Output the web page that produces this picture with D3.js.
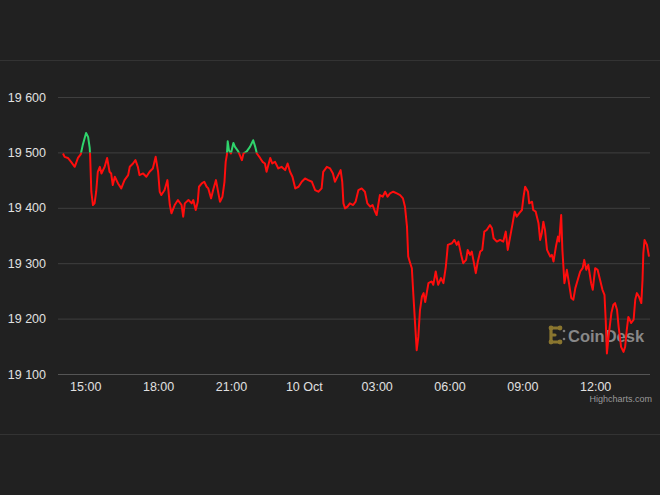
<!DOCTYPE html>
<html><head><meta charset="utf-8">
<script src="https://cdn.jsdelivr.net/npm/d3@7"></script>
<style>html,body{margin:0;padding:0;background:#212121;}svg{display:block;}</style>
</head><body>
<svg id="chart" width="660" height="495"></svg>
<script>
const times = [
"2022-10-09T14:05","2022-10-09T14:09","2022-10-09T14:17","2022-10-09T14:25","2022-10-09T14:34","2022-10-09T14:42","2022-10-09T14:49","2022-10-09T14:54",
"2022-10-09T15:02","2022-10-09T15:07","2022-10-09T15:11","2022-10-09T15:12","2022-10-09T15:15","2022-10-09T15:19","2022-10-09T15:23","2022-10-09T15:27",
"2022-10-09T15:31","2022-10-09T15:36","2022-10-09T15:40","2022-10-09T15:48","2022-10-09T15:54","2022-10-09T16:00","2022-10-09T16:04","2022-10-09T16:08",
"2022-10-09T16:13","2022-10-09T16:21","2022-10-09T16:29","2022-10-09T16:37","2022-10-09T16:46","2022-10-09T16:50","2022-10-09T16:58","2022-10-09T17:04",
"2022-10-09T17:10","2022-10-09T17:14","2022-10-09T17:23","2022-10-09T17:31","2022-10-09T17:39","2022-10-09T17:47","2022-10-09T17:54","2022-10-09T18:00",
"2022-10-09T18:04","2022-10-09T18:08","2022-10-09T18:16","2022-10-09T18:23","2022-10-09T18:29","2022-10-09T18:33","2022-10-09T18:41","2022-10-09T18:49",
"2022-10-09T18:58","2022-10-09T19:02","2022-10-09T19:06","2022-10-09T19:15","2022-10-09T19:23","2022-10-09T19:27","2022-10-09T19:33","2022-10-09T19:38",
"2022-10-09T19:41","2022-10-09T19:48","2022-10-09T19:54","2022-10-09T20:00","2022-10-09T20:04","2022-10-09T20:11","2022-10-09T20:16","2022-10-09T20:23",
"2022-10-09T20:29","2022-10-09T20:33","2022-10-09T20:39","2022-10-09T20:44","2022-10-09T20:47","2022-10-09T20:50","2022-10-09T20:52","2022-10-09T20:55",
"2022-10-09T21:00","2022-10-09T21:06","2022-10-09T21:10","2022-10-09T21:18","2022-10-09T21:27","2022-10-09T21:31","2022-10-09T21:39","2022-10-09T21:47",
"2022-10-09T21:55","2022-10-09T22:00","2022-10-09T22:04","2022-10-09T22:12","2022-10-09T22:18","2022-10-09T22:24","2022-10-09T22:28","2022-10-09T22:37",
"2022-10-09T22:42","2022-10-09T22:49","2022-10-09T22:57","2022-10-09T23:05","2022-10-09T23:14","2022-10-09T23:20","2022-10-09T23:26","2022-10-09T23:32",
"2022-10-09T23:39","2022-10-09T23:47","2022-10-09T23:55","2022-10-10T00:03","2022-10-10T00:11","2022-10-10T00:20","2022-10-10T00:28","2022-10-10T00:36",
"2022-10-10T00:44","2022-10-10T00:48","2022-10-10T00:57","2022-10-10T01:05","2022-10-10T01:12","2022-10-10T01:17","2022-10-10T01:25","2022-10-10T01:31",
"2022-10-10T01:35","2022-10-10T01:38","2022-10-10T01:42","2022-10-10T01:48","2022-10-10T01:54","2022-10-10T02:02","2022-10-10T02:08","2022-10-10T02:15",
"2022-10-10T02:23","2022-10-10T02:31","2022-10-10T02:37","2022-10-10T02:44","2022-10-10T02:50","2022-10-10T02:56","2022-10-10T03:00","2022-10-10T03:04",
"2022-10-10T03:08","2022-10-10T03:15","2022-10-10T03:21","2022-10-10T03:27","2022-10-10T03:33","2022-10-10T03:41","2022-10-10T03:50","2022-10-10T03:58",
"2022-10-10T04:05","2022-10-10T04:10","2022-10-10T04:15","2022-10-10T04:18","2022-10-10T04:23","2022-10-10T04:27","2022-10-10T04:31","2022-10-10T04:35",
"2022-10-10T04:39","2022-10-10T04:43","2022-10-10T04:47","2022-10-10T04:52","2022-10-10T04:56","2022-10-10T05:00","2022-10-10T05:08","2022-10-10T05:16",
"2022-10-10T05:20","2022-10-10T05:26","2022-10-10T05:32","2022-10-10T05:39","2022-10-10T05:45","2022-10-10T05:51","2022-10-10T05:56","2022-10-10T06:06",
"2022-10-10T06:12","2022-10-10T06:18","2022-10-10T06:22","2022-10-10T06:29","2022-10-10T06:34","2022-10-10T06:41","2022-10-10T06:45","2022-10-10T06:51",
"2022-10-10T06:55","2022-10-10T06:59","2022-10-10T07:05","2022-10-10T07:10","2022-10-10T07:16","2022-10-10T07:21","2022-10-10T07:26","2022-10-10T07:32",
"2022-10-10T07:40","2022-10-10T07:45","2022-10-10T07:49","2022-10-10T07:57","2022-10-10T08:05","2022-10-10T08:13","2022-10-10T08:19","2022-10-10T08:24",
"2022-10-10T08:30","2022-10-10T08:36","2022-10-10T08:41","2022-10-10T08:46","2022-10-10T08:52","2022-10-10T08:59","2022-10-10T09:03","2022-10-10T09:07",
"2022-10-10T09:14","2022-10-10T09:17","2022-10-10T09:24","2022-10-10T09:27","2022-10-10T09:33","2022-10-10T09:40","2022-10-10T09:44","2022-10-10T09:48",
"2022-10-10T09:52","2022-10-10T09:56","2022-10-10T10:01","2022-10-10T10:09","2022-10-10T10:13","2022-10-10T10:17","2022-10-10T10:23","2022-10-10T10:28",
"2022-10-10T10:31","2022-10-10T10:36","2022-10-10T10:39","2022-10-10T10:44","2022-10-10T10:50","2022-10-10T10:54","2022-10-10T11:01","2022-10-10T11:06",
"2022-10-10T11:11","2022-10-10T11:17","2022-10-10T11:23","2022-10-10T11:29","2022-10-10T11:33","2022-10-10T11:38","2022-10-10T11:43","2022-10-10T11:50",
"2022-10-10T11:54","2022-10-10T12:00","2022-10-10T12:06","2022-10-10T12:12","2022-10-10T12:18","2022-10-10T12:23","2022-10-10T12:26","2022-10-10T12:29",
"2022-10-10T12:33","2022-10-10T12:40","2022-10-10T12:45","2022-10-10T12:49","2022-10-10T12:54","2022-10-10T12:58","2022-10-10T13:04","2022-10-10T13:10",
"2022-10-10T13:14","2022-10-10T13:18","2022-10-10T13:22","2022-10-10T13:29","2022-10-10T13:35","2022-10-10T13:39","2022-10-10T13:43","2022-10-10T13:48",
"2022-10-10T13:54","2022-10-10T13:57","2022-10-10T13:59","2022-10-10T14:02","2022-10-10T14:08","2022-10-10T14:13"
];
const prices = [
19498,19492,19490,19483,19474,19490,19497,19514,
19535,19528,19508,19495,19429,19405,19408,19429,
19465,19474,19462,19474,19490,19465,19462,19441,
19456,19444,19435,19450,19459,19474,19480,19486,
19474,19459,19462,19456,19465,19471,19492,19465,
19429,19423,19432,19450,19405,19390,19405,19414,
19405,19384,19408,19414,19408,19414,19396,19411,
19438,19444,19447,19438,19435,19417,19432,19450,
19426,19411,19420,19447,19483,19496,19520,19504,
19498,19517,19510,19502,19486,19498,19502,19510,
19522,19510,19498,19490,19483,19480,19465,19490,
19480,19483,19471,19474,19468,19480,19465,19456,
19435,19438,19447,19453,19450,19447,19432,19429,
19435,19465,19474,19471,19462,19447,19459,19468,
19447,19408,19399,19402,19408,19405,19411,19432,
19435,19429,19408,19402,19405,19393,19387,19405,
19423,19420,19429,19420,19426,19429,19426,19423,
19417,19402,19366,19312,19300,19291,19240,19191,
19143,19167,19215,19240,19246,19230,19264,19267,
19261,19285,19261,19273,19264,19294,19333,19336,
19342,19333,19339,19315,19300,19306,19324,19315,
19321,19306,19282,19303,19321,19324,19357,19360,
19369,19363,19345,19339,19342,19339,19357,19324,
19348,19372,19393,19384,19390,19396,19420,19438,
19429,19408,19411,19396,19393,19372,19342,19354,
19375,19360,19324,19312,19315,19303,19330,19348,
19339,19387,19324,19264,19288,19270,19237,19234,
19255,19270,19285,19291,19306,19288,19297,19264,
19252,19291,19288,19270,19252,19243,19198,19137,
19167,19210,19225,19228,19216,19185,19149,19140,
19149,19179,19203,19192,19198,19234,19246,19240,
19228,19270,19318,19342,19333,19312
];
const yTicks = [19100, 19200, 19300, 19400, 19500, 19600];
const zoneThreshold = 19500;
const creditText = "Highcharts.com";
const brandText = "CoinDesk";

const svg = d3.select("#chart");
const W = 660, H = 495;
const plotLeft = 58, plotRight = 650, plotTop = 97, plotBottom = 374;

svg.append("rect").attr("width", W).attr("height", H).attr("fill", "#212121");
// frame lines
svg.append("line").attr("x1", 0).attr("x2", W).attr("y1", 60.5).attr("y2", 60.5).attr("stroke", "#333").attr("stroke-width", 1);
svg.append("line").attr("x1", 0).attr("x2", W).attr("y1", 434.5).attr("y2", 434.5).attr("stroke", "#333").attr("stroke-width", 1);

const parse = d3.timeParse("%Y-%m-%dT%H:%M");
const data = times.map((t, i) => ({ t: parse(t), v: prices[i] }));

const x = d3.scaleTime().domain(d3.extent(data, d => d.t)).range([63, 649]);
const y = d3.scaleLinear().domain([19100, 19600]).range([plotBottom, plotTop]);

const loc = d3.formatLocale({ decimal: ".", thousands: " ", grouping: [3], currency: ["", ""] });
const fmtY = loc.format(",d");

// y grid + labels
const yAxis = d3.axisLeft(y).tickValues(yTicks).tickSize(-(plotRight - plotLeft)).tickFormat(fmtY).tickPadding(12);
const gy = svg.append("g").attr("transform", `translate(${plotLeft},0)`).call(yAxis);
gy.select(".domain").remove();
gy.selectAll(".tick line").attr("stroke", "#3f3f3f").attr("stroke-width", 1);
gy.selectAll(".tick text").attr("fill", "#e0e0e0").attr("font-size", 12.5)
  .attr("font-family", "'Liberation Sans', Arial, sans-serif");

// x axis
const fmtX = d => (d.getHours() === 0 ? d3.timeFormat("%-d %b")(d) : d3.timeFormat("%H:%M")(d));
const xAxis = d3.axisBottom(x).ticks(d3.timeHour.every(3)).tickSize(0).tickPadding(8).tickFormat(fmtX);
const gx = svg.append("g").attr("transform", `translate(0,${plotBottom})`).call(xAxis);
gx.select(".domain").remove();
gx.selectAll(".tick text").attr("fill", "#e0e0e0").attr("font-size", 12.5)
  .attr("font-family", "'Liberation Sans', Arial, sans-serif");
svg.append("line").attr("x1", plotLeft).attr("x2", plotRight).attr("y1", plotBottom + 0.5).attr("y2", plotBottom + 0.5)
  .attr("stroke", "#555").attr("stroke-width", 1);

// CoinDesk watermark
const logo = svg.append("g").attr("opacity", 0.85);
const gold = "#9d8532";
logo.append("path")
  .attr("d", "M551,328 L560,328 M551,328 L551,342 M551,342 L560,342 M551,335 L555,335")
  .attr("stroke", gold).attr("stroke-width", 3.2).attr("fill", "none").attr("stroke-linecap", "round");
[[560,328],[560,342],[551,328],[551,342]].forEach(p => logo.append("circle").attr("cx", p[0]).attr("cy", p[1]).attr("r", 2.4).attr("fill", gold));
[[564,331],[564,339]].forEach(p => logo.append("circle").attr("cx", p[0]).attr("cy", p[1]).attr("r", 1.3).attr("fill", "#8a8a8a"));
logo.append("text").attr("x", 568).attr("y", 341.5).text(brandText)
  .attr("font-family", "'Liberation Sans', Arial, sans-serif").attr("font-weight", "bold")
  .attr("font-size", 16.5).attr("fill", "#9a9a9a");

// line with zones
const line = d3.line().x(d => x(d.t)).y(d => y(d.v)).curve(d3.curveLinear);
const defs = svg.append("defs");
const yT = y(zoneThreshold);
defs.append("clipPath").attr("id", "above").append("rect").attr("x", 0).attr("y", 0).attr("width", W).attr("height", yT);
defs.append("clipPath").attr("id", "below").append("rect").attr("x", 0).attr("y", yT).attr("width", W).attr("height", H - yT);
svg.append("path").datum(data).attr("d", line).attr("fill", "none").attr("stroke", "#ff0d0d")
  .attr("stroke-width", 2).attr("stroke-linejoin", "round").attr("clip-path", "url(#below)");
svg.append("path").datum(data).attr("d", line).attr("fill", "none").attr("stroke", "#2fd46c")
  .attr("stroke-width", 2).attr("stroke-linejoin", "round").attr("clip-path", "url(#above)");

// credit
svg.append("text").attr("x", 652).attr("y", 402).attr("text-anchor", "end").text(creditText)
  .attr("font-family", "'Liberation Sans', Arial, sans-serif").attr("font-size", 9).attr("fill", "#999");
</script>
</body></html>
